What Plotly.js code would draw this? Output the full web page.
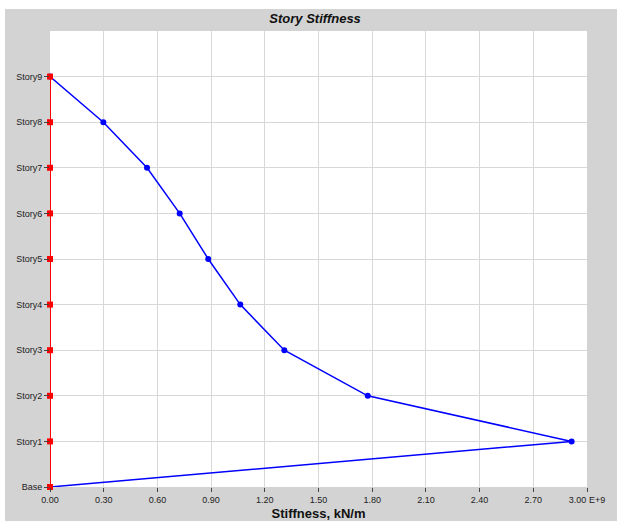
<!DOCTYPE html>
<html>
<head>
<meta charset="utf-8">
<script src="https://cdn.plot.ly/plotly-3.0.1.min.js"></script>
<style>
html,body{margin:0;padding:0;background:#fff;}
#chart{position:absolute;left:5px;top:9px;width:612px;height:512px;}
</style>
</head>
<body>
<div id="chart"></div>
<script>
// Story levels (index 0 = Base)
const storyLabels = ["Base","Story1","Story2","Story3","Story4","Story5","Story6","Story7","Story8","Story9"];
const storyLevels = [0,1,2,3,4,5,6,7,8,9];
// Story stiffness, kN/m
const stiffness = [0, 2.914e9, 1.775e9, 1.309e9, 1.063e9, 0.884e9, 0.7245e9, 0.542e9, 0.298e9, 0];
// Reference (red) series
const refValues = [0,0,0,0,0,0,0,0,0,0];
// X tick values and labels
const xTickVals = [0,0.3e9,0.6e9,0.9e9,1.2e9,1.5e9,1.8e9,2.1e9,2.4e9,2.7e9,3.0e9];
const xTickText = ["0.00","0.30","0.60","0.90","1.20","1.50","1.80","2.10","2.40","2.70","3.00 E+9"];

const traces = [
  {x: stiffness, y: storyLevels, type:'scatter', mode:'lines+markers',
   line:{color:'#0000ff', width:1.5}, marker:{color:'#0000ff', size:6, symbol:'circle'},
   cliponaxis:false, hoverinfo:'x+y'},
  {x: refValues, y: storyLevels, type:'scatter', mode:'lines+markers',
   line:{color:'#ff0000', width:2}, marker:{color:'#ff0000', size:6, symbol:'square'},
   cliponaxis:false}
];

const layout = {
  width:612, height:512,
  paper_bgcolor:'#d3d3d3', plot_bgcolor:'#ffffff',
  margin:{l:45, r:30, t:22, b:34, pad:0},
  showlegend:false,
  font:{family:'"Liberation Sans", Arial, sans-serif', size:9, color:'#222'},
  title:{text:'<b><i>Story Stiffness</i></b>', x:0.5067, xanchor:'center', y:0.982, yref:'container', yanchor:'middle',
         font:{family:'"Liberation Sans", Arial, sans-serif', size:13, color:'#111'}},
  xaxis:{range:[0,3e9], tickmode:'array', tickvals:xTickVals, ticktext:xTickText,
         showgrid:true, gridcolor:'#d8d8d8', gridwidth:1, zeroline:false,
         ticks:'outside', ticklen:4, tickcolor:'#444', showline:false,
         tickfont:{size:9, color:'#222'}, automargin:false,
         title:{text:'<b>Stiffness, kN/m</b>', standoff:6, font:{size:13, color:'#111'}}},
  yaxis:{range:[0,10], tickmode:'array', tickvals:storyLevels, ticktext:storyLabels,
         showgrid:true, gridcolor:'#d8d8d8', gridwidth:1, zeroline:false,
         ticks:'outside', ticklen:5, tickcolor:'#444', showline:false,
         tickfont:{size:9, color:'#222'}, automargin:false}
};

Plotly.newPlot('chart', traces, layout, {displayModeBar:false, staticPlot:true});
</script>
</body>
</html>
